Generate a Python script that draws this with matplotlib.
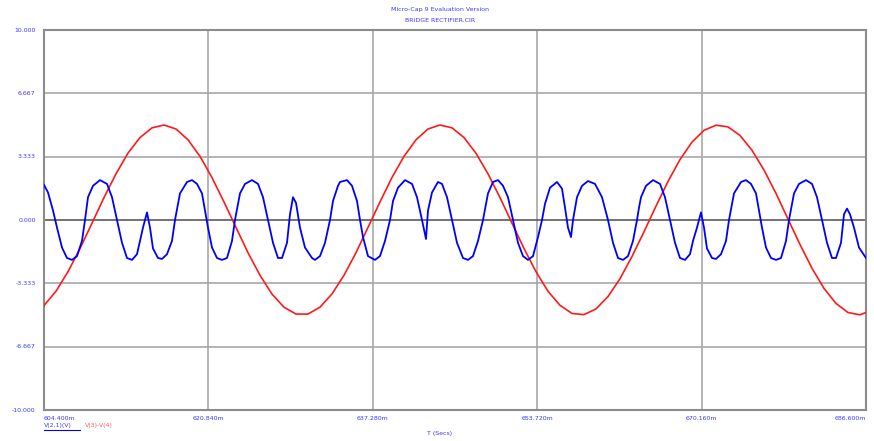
import matplotlib
matplotlib.use("Agg")
import matplotlib.pyplot as plt
import numpy as np
from matplotlib.lines import Line2D

# Title / labels
title_lines = ["Micro-Cap 9 Evaluation Version", "BRIDGE RECTIFIER.CIR"]
x_label = "T (Secs)"
legend_blue = "V(2,1)(V)"
legend_red = "V(3)-V(4)"

# Axis ticks (time in ms, volts)
x_ticks = [604.4, 620.84, 637.28, 653.72, 670.16, 686.6]
y_ticks = [-10.0, -6.667, -3.333, 0.0, 3.333, 6.667, 10.0]
y_tick_labels = ["-10.000", "-6.667", "-3.333", "0.000", "3.333", "6.667", "10.000"]

# Red trace: sampled every 1.2 ms starting at 604.4 ms
red_t0 = 604.4
red_dt = 1.2
red_v = [-4.50, -3.75, -2.72, -1.50, -0.17, 1.18, 2.43, 3.52, 4.34, 4.85,
         5.00, 4.79, 4.22, 3.35, 2.23, 0.95, -0.39, -1.72, -2.91, -3.90,
         -4.59, -4.95, -4.95, -4.59, -3.89, -2.91, -1.72, -0.39, 0.95, 2.24,
         3.35, 4.22, 4.79, 5.00, 4.85, 4.34, 3.51, 2.43, 1.18, -0.17,
         -1.50, -2.72, -3.75, -4.49, -4.92, -4.98, -4.68, -4.03, -3.09, -1.92,
         -0.62, 0.73, 2.03, 3.18, 4.10, 4.72, 4.99, 4.90, 4.45, 3.67,
         2.63, 1.40, 0.05, -1.29, -2.54, -3.60, -4.39, -4.87, -4.99, -4.75]

# Blue trace (time ms, volts)
blue_t = [604.4, 604.8, 605.3, 605.7, 606.2, 606.7, 607.2, 607.7, 608.2, 608.5,
          608.8, 609.3, 610.0, 610.7, 611.2, 611.7, 612.2, 612.7, 613.2, 613.7,
          614.0, 614.3, 614.7, 615.0, 615.3, 615.8, 616.2, 616.7, 617.2, 617.5,
          618.0, 618.7, 619.2, 619.7, 620.2, 620.5, 620.8, 621.2, 621.7, 622.2,
          622.7, 623.2, 623.5, 624.0, 624.5, 625.2, 625.8, 626.3, 626.8, 627.3,
          627.8, 628.2, 628.7, 629.0, 629.3, 629.6, 630.0, 630.5, 631.2, 631.5,
          632.0, 632.5, 633.0, 633.3, 633.8, 634.0, 634.7, 635.2, 635.7, 636.0,
          636.3, 636.8, 637.5, 638.0, 638.5, 639.0, 639.3, 639.8, 640.5, 641.2,
          641.7, 642.2, 642.6, 642.8, 643.2, 643.8, 644.2, 644.7, 645.2, 645.7,
          646.3, 646.8, 647.3, 647.8, 648.3, 648.8, 649.3, 649.8, 650.3, 650.8,
          651.3, 651.8, 652.3, 652.8, 653.3, 653.8, 654.2, 654.5, 655.0, 655.7,
          656.2, 656.5, 656.8, 657.1, 657.3, 657.7, 658.2, 658.8, 659.5, 660.2,
          660.8, 661.3, 661.8, 662.3, 662.8, 663.3, 663.7, 663.9,
          664.1, 664.6, 665.3, 666.0, 666.5, 667.0, 667.5, 668.0, 668.5, 669.0,
          669.3, 669.7, 670.1, 670.4, 670.7, 671.2, 671.6, 672.1, 672.6, 672.9,
          673.4, 674.1, 674.6, 675.1, 675.6, 675.9, 676.2, 676.6, 677.1, 677.6,
          678.1, 678.6, 678.9, 679.4, 679.9, 680.6, 681.2, 681.7, 682.2, 682.7,
          683.2, 683.6, 684.1, 684.4, 684.7, 685.0, 685.4, 685.9, 686.6]
blue_v = [1.85, 1.45, 0.5, -0.4, -1.45, -2.0, -2.1, -1.9, -1.1, 0.0,
          1.2, 1.8, 2.1, 1.9, 1.2, 0.0, -1.2, -2.0, -2.1, -1.8,
          -1.1, -0.4, 0.4, -0.4, -1.5, -2.0, -2.05, -1.8, -1.1, 0.0,
          1.4, 2.0, 2.1, 1.9, 1.4, 0.5, -0.4, -1.45, -2.0, -2.1,
          -2.0, -1.1, 0.0, 1.4, 1.9, 2.1, 1.9, 1.2, 0.0, -1.2,
          -2.0, -2.0, -1.2, 0.3, 1.2, 0.9, -0.4, -1.45, -2.0, -2.1,
          -1.9, -1.2, 0.0, 1.0, 1.8, 2.0, 2.1, 1.8, 1.0, 0.0,
          -0.9, -1.9, -2.1, -1.9, -1.1, 0.0, 1.0, 1.7, 2.1, 1.9,
          1.2, 0.0, -1.0, 0.5, 1.45, 2.0, 1.9, 1.2, 0.0, -1.2,
          -2.0, -2.1, -1.9, -1.1, 0.0, 1.4, 2.0, 2.1, 1.8, 1.2,
          0.0, -1.2, -1.9, -2.1, -1.9, -0.9, 0.0, 0.85, 1.7, 2.0,
          1.65, 0.65, -0.4, -0.9, 0.0, 1.2, 1.8, 2.05, 1.9, 1.2,
          0.0, -1.2, -2.0, -2.1, -1.9, -1.1, 0.0, 0.65,
          1.2, 1.8, 2.1, 1.9, 1.2, 0.0, -1.2, -2.0, -2.1, -1.8,
          -1.1, -0.4, 0.4, -0.4, -1.5, -2.0, -2.05, -1.8, -1.1, 0.0,
          1.4, 2.0, 2.1, 1.9, 1.4, 0.5, -0.4, -1.45, -2.0, -2.1,
          -2.0, -1.1, 0.0, 1.4, 1.9, 2.1, 1.9, 1.2, 0.0, -1.2,
          -2.0, -2.0, -1.2, 0.3, 0.6, 0.3, -0.4, -1.45, -2.0]

red_t = red_t0 + red_dt * np.arange(len(red_v))

text_color = "#3a3aff"
grid_color = "#a8a8a8"

fig = plt.figure(figsize=(8.74, 4.41), dpi=100)
ax = fig.add_axes([44 / 874, 1 - 410 / 441, 822 / 874, 380 / 441])

ax.set_xlim(x_ticks[0], x_ticks[-1])
ax.set_ylim(-10, 10)

# grid
for xt in x_ticks[1:-1]:
    ax.axvline(xt, color=grid_color, lw=1.2, zorder=1)
for yt in y_ticks[1:-1]:
    ax.axhline(yt, color="#5a5a5a" if yt == 0 else grid_color, lw=1.2, zorder=1)

ax.plot(red_t, red_v, color="#ff1a1a", lw=1.2, zorder=3)
ax.plot(blue_t, blue_v, color="#0000ff", lw=1.3, zorder=4)

ax.set_xticks([])
ax.set_yticks([])
for s in ax.spines.values():
    s.set_color("#8c8c8c")
    s.set_linewidth(1.5)

# y tick labels
for yt, lab in zip(y_ticks, y_tick_labels):
    ax.annotate(lab, xy=(0, yt), xycoords=("axes fraction", "data"),
                xytext=(-6, 0), textcoords="offset points",
                ha="right", va="center", fontsize=4.5, color=text_color)

# x tick labels
n_x = len(x_ticks)
for i, xt in enumerate(x_ticks):
    if i == 0:
        ha = "left"
    elif i == n_x - 1:
        ha = "right"
    else:
        ha = "center"
    ax.annotate(f"{xt:.3f}m", xy=(xt, 0), xycoords=("data", "axes fraction"),
                xytext=(0, -4), textcoords="offset points",
                ha=ha, va="top", fontsize=4.5, color=text_color,
                annotation_clip=False)

fig.text(440 / 874, 1 - 10 / 441, title_lines[0], ha="center", va="center",
         fontsize=4.5, color=text_color)
fig.text(440 / 874, 1 - 20 / 441, title_lines[1], ha="center", va="center",
         fontsize=4.5, color=text_color)
fig.text(440 / 874, 1 - 434 / 441, x_label, ha="center", va="center",
         fontsize=4.5, color=text_color)

# legend entries
fig.text(44 / 874, 1 - 425 / 441, legend_blue, ha="left", va="center",
         fontsize=4.5, color=text_color)
fig.add_artist(Line2D([44 / 874, 80 / 874], [1 - 430 / 441, 1 - 430 / 441],
                      color="#0000ff", lw=0.8))
fig.text(85 / 874, 1 - 425 / 441, legend_red, ha="left", va="center",
         fontsize=4.5, color="#ff5a5a")

fig.savefig("out.png", dpi=100)
